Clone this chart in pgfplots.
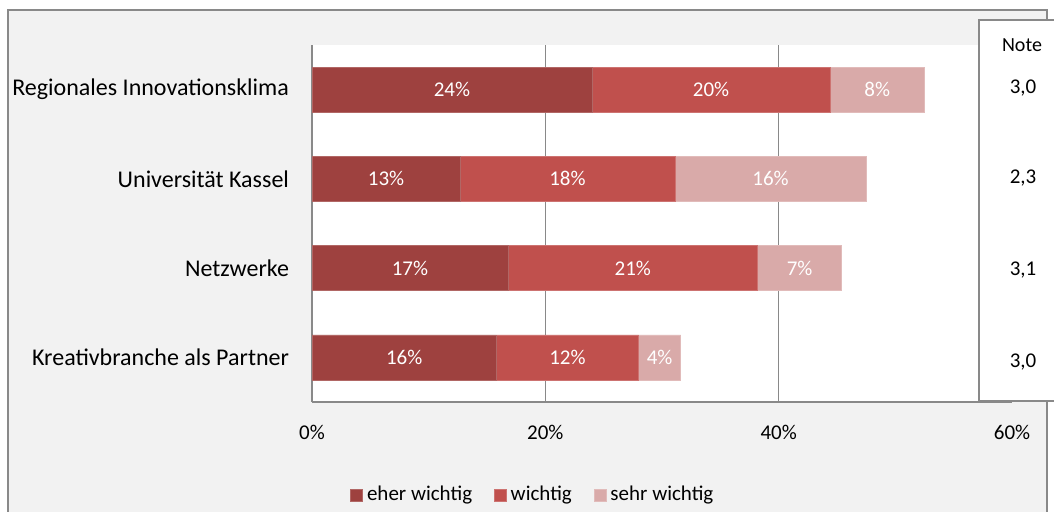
\documentclass[border=0pt]{standalone}
\usepackage{pgfplots}
\pgfplotsset{compat=1.18}
\usepackage{fontspec}
\setmainfont{Carlito}
\definecolor{eher}{RGB}{158,65,63}
\definecolor{wicht}{RGB}{192,80,77}
\definecolor{sehr}{RGB}{217,170,169}
\definecolor{framegray}{RGB}{137,137,137}
\definecolor{bg}{RGB}{242,242,242}
\pgfplotsset{sqlegend/.style={legend image code/.code={\fill[##1] (0pt,-3pt) rectangle (6pt,3pt);}}}
\begin{document}
\begin{tikzpicture}[x=1pt,y=1pt]
\path[use as bounding box] (0,0) rectangle (527,-255.5);
\draw[framegray, line width=0.75pt, fill=bg] (4,-5) rectangle (523.5,-262);
\begin{axis}[
  at={(156pt,-201pt)}, anchor=south west,
  scale only axis, width=350pt, height=178.5pt,
  xbar stacked, bar width=22.5pt,
  xmin=0, xmax=60, ymin=0.5, ymax=4.5, y dir=reverse,
  axis background/.style={fill=white},
  axis x line*=bottom, axis y line*=left,
  axis line style={framegray, line width=0.8pt, -},
  major tick length=0pt,
  xmajorgrids, grid style={framegray, line width=0.8pt},
  ytick={1,2,3,4},
  yticklabels={Regionales Innovationsklima, Universität Kassel, Netzwerke, Kreativbranche als Partner},
  yticklabel style={font=\fontsize{12}{14}\selectfont, xshift=-8pt},
  xtick={0,20,40,60},
  xticklabel={\pgfmathprintnumber{\tick}\%},
  xticklabel style={font=\fontsize{10.5}{12}\selectfont, yshift=-8pt},
  /pgf/number format/assume math mode=true,
  visualization depends on={rawx \as \rawx},
  nodes near coords={\pgfmathprintnumber[fixed,precision=0]{\rawx}\%},
  every node near coord/.append style={font=\fontsize{10.5}{12}\selectfont, text=white, anchor=center},
  legend style={at={(0.317,-0.26)}, anchor=center, draw=none, fill=none, legend columns=3,
    font=\fontsize{10.5}{12}\selectfont, inner xsep=0pt,
    /tikz/every even column/.append style={column sep=9pt}},
]
\addplot[fill=eher, draw=eher!80!white, line width=0.3pt, sqlegend] coordinates {(24.0,1) (12.7,2) (16.8,3) (15.8,4)};
\addlegendentry{eher wichtig}
\addplot[fill=wicht, draw=wicht!80!white, line width=0.3pt, sqlegend] coordinates {(20.4,1) (18.4,2) (21.4,3) (12.2,4)};
\addlegendentry{wichtig}
\addplot[fill=sehr, draw=sehr!80!white, line width=0.3pt, sqlegend] coordinates {(8.1,1) (16.4,2) (7.2,3) (3.6,4)};
\addlegendentry{sehr wichtig}
\end{axis}
\draw[framegray, line width=0.75pt, fill=white] (489.5,-10) rectangle (535,-200.5);
\begin{scope}[every node/.style={font=\fontsize{10.5}{12}\selectfont, inner sep=0pt}]
\node[font=\fontsize{10}{12}\selectfont] at (511,-22.5) {Note};
\node at (511.5,-44) {3,0};
\node at (511.5,-89) {2,3};
\node at (511.5,-135) {3,1};
\node at (511.5,-181) {3,0};
\end{scope}
\end{tikzpicture}
\end{document}
